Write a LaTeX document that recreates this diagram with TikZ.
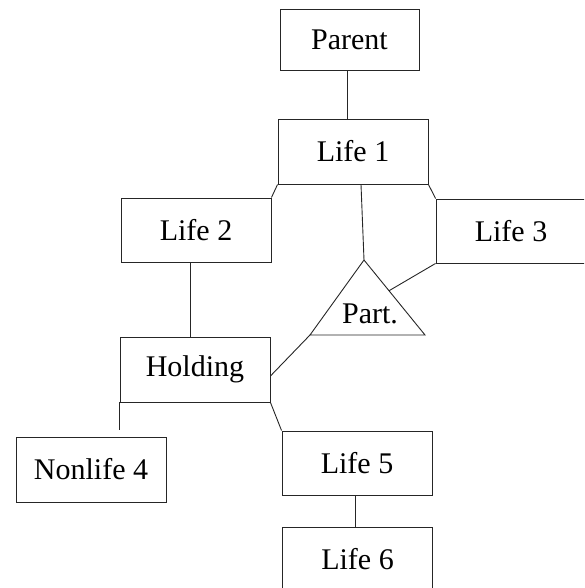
\documentclass[tikz,border=0pt]{standalone}
\usepackage{fontspec}
\setmainfont{Liberation Serif}
\usetikzlibrary{positioning,calc}
\begin{document}
\begin{tikzpicture}[x=1pt,y=-1pt,
  box/.style={draw=black!85,line width=0.9pt,minimum width=150pt,minimum height=64pt,inner sep=0pt,font=\fontsize{30}{36}\selectfont},
  conn/.style={draw=black!85,line width=0.9pt}]
\useasboundingbox (0,0) rectangle (584,588);
\clip (0,0) rectangle (584,588);
\node[box,minimum width=139pt,minimum height=61pt] (parent) at (349.5,39.5) {Parent};
\node[box,minimum height=65pt] (life1) at (353,151.5) {Life 1};
\node[box] (life2) at (196,230) {Life 2};
\node[box] (life3) at (511,231) {Life 3};
\node[box,minimum height=65pt] (holding) at (195,369.5) {Holding};
\node[box,minimum height=65pt] (nonlife4) at (91,469.5) {Nonlife 4};
\node[box] (life5) at (357,463) {Life 5};
\node[box] (life6) at (357.5,559) {Life 6};
% participation triangle
\coordinate (tapex) at (364,260);
\coordinate (tbl) at (310,335);
\coordinate (tbr) at (425,335);
\draw[conn] (tapex) -- (tbl) -- (tbr) -- cycle;
\node[font=\fontsize{30}{36}\selectfont,inner sep=0pt] (part) at (370,314) {Part.};
\coordinate (tright) at ($(tapex)!0.41!(tbr)$);
% connectors
\draw[conn] ([xshift=-2.5pt]parent.south) -- ([xshift=-2.5pt]parent.south |- life1.north);
\draw[conn] (life1.south west) -- (life2.north east);
\draw[conn] ([xshift=8pt]life1.south) -- (tapex);
\draw[conn] (life1.south east) -- (life3.north west);
\draw[conn] (life3.south west) -- (tright);
\draw[conn] ([xshift=-6pt]life2.south) -- ([xshift=-6pt]life2.south |- holding.north);
\draw[conn] ([yshift=-6.5pt]holding.east) -- (tbl);
\coordinate (free) at ($(holding.south west)+(0,28)$);
\draw[conn] (holding.south west) -- (free);
\draw[conn] (holding.south east) -- (life5.north west);
\draw[conn] ([xshift=-2pt]life5.south) -- ([xshift=-2pt]life5.south |- life6.north);
\end{tikzpicture}
\end{document}
